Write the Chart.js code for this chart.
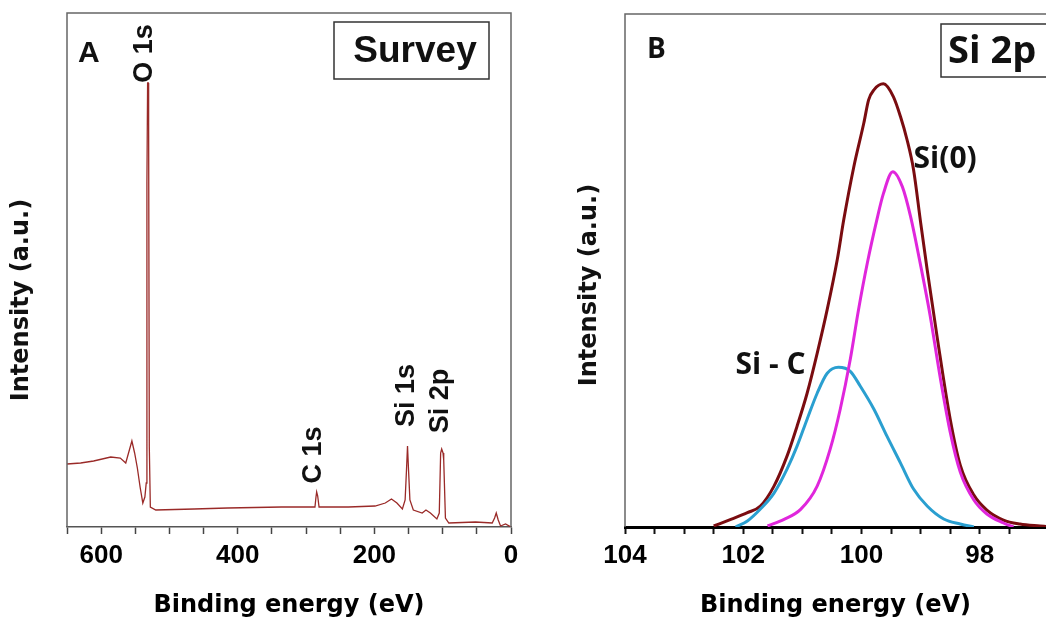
<!DOCTYPE html>
<html>
<head>
<meta charset="utf-8">
<script src="https://cdn.jsdelivr.net/npm/chart.js@4.4.1/dist/chart.umd.min.js"></script>
<style>
  html, body { margin: 0; padding: 0; background: #fff; }
  #wrap { position: relative; width: 1046px; height: 622px; overflow: hidden; }
  .panel { position: absolute; top: 0; }
  #panel-a { left: 0; }
  #panel-b { left: 545px; }
</style>
</head>
<body>
<div id="wrap">
  <div class="panel" id="panel-a"><canvas id="survey-chart" width="545" height="622"></canvas></div>
  <div class="panel" id="panel-b"><canvas id="si2p-chart" width="501" height="622"></canvas></div>
</div>
<script>
// survey spectrum (A): binding energy in eV, intensity in a.u.
var surveyEnergy = [650, 630, 611, 586, 572, 564, 555, 551, 547, 543, 539, 536, 534, 533, 532, 531, 530.5, 529.5, 528, 520,
  464, 415, 336, 287, 285.5, 284.5, 283, 281, 238, 199, 184, 175, 167, 159, 155, 153, 151.5, 150, 148, 143,
  130, 124.5, 118, 108.5, 105, 103, 101.5, 99.5, 98.5, 96, 91, 52, 27.5, 24, 21.6, 18.7, 15.3, 8, 0];
var surveyIntensity = [63, 64, 66, 70, 69, 64, 86, 74, 59, 40, 24, 30, 44, 345, 444, 444, 404, 80, 20, 17,
  18, 19, 20, 20, 30, 35, 31, 20, 20, 21, 24, 28, 24, 18, 27, 57, 81, 57, 27, 17,
  14, 17, 14, 8, 14, 74, 78, 74, 67, 9, 4, 5, 4, 9, 14, 7, 1, 3, 0];

// Si 2p high resolution (B): envelope and the two fitted components
var envelopeEnergy = [102.5, 102.21, 101.93, 101.71, 101.48, 101.26, 101.09, 100.92, 100.75, 100.58,
  100.41, 100.3, 100.13, 99.96, 99.88, 99.79, 99.63, 99.46, 99.34, 99.23,
  99.12, 99.0, 98.89, 98.72, 98.5, 98.33, 98.1, 97.88, 97.6, 97.32, 96.98, 96.88];
var envelopeIntensity = [1, 7.7, 14.3, 21, 41, 71, 101, 134, 174, 218,
  268, 308, 361, 405, 428, 438, 444, 431, 411, 388,
  358, 305, 258, 190, 108, 62, 32, 17, 7, 3, 1, 0.5];

var si0Energy = [101.59, 101.31, 101.03, 100.75, 100.53, 100.36, 100.19, 100.05, 99.9, 99.74,
  99.63, 99.47, 99.31, 99.17, 99.02, 98.84, 98.67, 98.5, 98.33, 98.1, 97.88, 97.6, 97.43];
var si0Intensity = [1, 7.7, 17.7, 41, 78, 118, 168, 218, 265, 308,
  334, 356, 341, 311, 268, 212, 150, 95, 55, 27, 13, 4, 0];

var sicEnergy = [102.13, 101.93, 101.71, 101.48, 101.26, 101.09, 100.92, 100.75, 100.58, 100.39,
  100.19, 100.02, 99.79, 99.57, 99.34, 99.12, 98.89, 98.61, 98.33, 98.1];
var sicIntensity = [0, 6, 18, 34, 58, 81, 108, 134, 154, 160,
  156, 141, 118, 91, 64, 38, 21, 8, 3, 0];

var surveyTicks = { min: 0, max: 650, step: 50, labelEvery: 200 };
var si2pTicks = { min: 96.88, max: 104, step: 0.5, labelEvery: 2 };

function toPoints(xs, ys) {
  return xs.map(function (x, i) {
    return { x: x, y: ys[i] };
  });
}

function isMultiple(v, step) {
  return Math.abs(v / step - Math.round(v / step)) < 1e-6;
}

Chart.defaults.font.family = "Liberation Sans";
Chart.defaults.color = "#000";

// frame, panel letter, boxed title, peak labels and the y title
function makeDecor(cfg) {
  return {
    id: "decor",
    afterDraw: function (chart) {
      var ctx = chart.ctx;
      var a = chart.chartArea;
      var xs = chart.scales.x;
      var ys = chart.scales.y;
      ctx.save();

      ctx.strokeStyle = cfg.frameColor;
      ctx.lineWidth = 1.5;
      ctx.beginPath();
      ctx.moveTo(a.left, a.bottom);
      ctx.lineTo(a.left, a.top);
      if (cfg.closeRight) {
        ctx.lineTo(a.right, a.top);
        ctx.lineTo(a.right, a.bottom);
      } else {
        ctx.lineTo(a.right + 4, a.top);
      }
      ctx.stroke();

      ctx.fillStyle = "#111";
      ctx.textAlign = "left";
      ctx.textBaseline = "alphabetic";
      ctx.font = cfg.letter.font;
      ctx.fillText(cfg.letter.text, cfg.letter.x, cfg.letter.y);

      ctx.strokeStyle = "#333";
      ctx.lineWidth = 1.5;
      ctx.strokeRect(cfg.box.x, cfg.box.y, cfg.box.w, cfg.box.h);
      ctx.font = cfg.box.font;
      ctx.textAlign = cfg.box.align;
      ctx.fillText(cfg.box.text, cfg.box.tx, cfg.box.ty);

      cfg.labels.forEach(function (l) {
        ctx.save();
        ctx.translate(xs.getPixelForValue(l.e), ys.getPixelForValue(l.v));
        if (l.rotate) ctx.rotate(-Math.PI / 2);
        ctx.font = l.font;
        ctx.textAlign = l.align;
        ctx.textBaseline = l.baseline;
        ctx.fillText(l.text, 0, 0);
        ctx.restore();
      });

      ctx.translate(cfg.yTitle.x, cfg.yTitle.y);
      ctx.rotate(-Math.PI / 2);
      ctx.font = "bold 24px 'DejaVu Sans'";
      ctx.textAlign = "center";
      ctx.textBaseline = "middle";
      ctx.fillText("Intensity (a.u.)", 0, 0);
      ctx.restore();
    }
  };
}

function xAxis(t, borderColor, borderWidth, tickColor, tickWidth) {
  return {
    type: "linear",
    reverse: true,
    min: t.min,
    max: t.max,
    border: { display: true, color: borderColor, width: borderWidth },
    grid: { drawOnChartArea: false, drawTicks: true, tickLength: 7, tickWidth: tickWidth, tickColor: tickColor },
    afterBuildTicks: function (s) {
      s.ticks = s.ticks.filter(function (tk) { return isMultiple(tk.value, t.step); });
    },
    ticks: {
      stepSize: t.step,
      autoSkip: false,
      maxRotation: 0,
      padding: 6,
      color: "#000",
      font: { family: "Liberation Sans", size: 26, weight: "bold" },
      callback: function (v) {
        return isMultiple(v, t.labelEvery) ? String(Math.round(v)) : "";
      }
    },
    title: {
      display: true,
      text: "Binding energy (eV)",
      color: "#000",
      padding: { top: 0, bottom: 2 },
      font: { family: "DejaVu Sans", size: 24, weight: "bold" }
    },
    afterFit: function (s) { s.height = 95; }
  };
}

function yAxis(max, width) {
  return {
    min: 0,
    max: max,
    ticks: { display: false },
    grid: { display: false },
    border: { display: false },
    afterFit: function (s) { s.width = width; }
  };
}

var peakFont = "bold 27px 'Liberation Sans'";

new Chart(document.getElementById("survey-chart"), {
  type: "line",
  data: {
    datasets: [
      {
        label: "Survey",
        data: toPoints(surveyEnergy, surveyIntensity),
        borderColor: "#9a2a28",
        borderWidth: 1.3,
        pointRadius: 0,
        tension: 0,
        fill: false
      }
    ]
  },
  options: {
    responsive: false,
    animation: false,
    layout: { padding: { left: 0, right: 34, top: 13, bottom: 0 } },
    plugins: { legend: { display: false }, tooltip: { enabled: false } },
    scales: {
      x: xAxis(surveyTicks, "#555", 1.5, "#444", 1.5),
      y: yAxis(514, 67)
    }
  },
  plugins: [makeDecor({
    frameColor: "#666",
    closeRight: true,
    letter: { text: "A", x: 78, y: 62, font: "bold 30px 'Liberation Sans'" },
    box: { x: 334, y: 22, w: 155, h: 57, text: "Survey", tx: 415, ty: 62, align: "center", font: "bold 37px 'Liberation Sans'" },
    labels: [
      { text: "O 1s", e: 537, v: 473.5, rotate: true, align: "center", baseline: "middle", font: peakFont },
      { text: "C 1s", e: 289.5, v: 72, rotate: true, align: "center", baseline: "middle", font: peakFont },
      { text: "Si 1s", e: 152.6, v: 131.5, rotate: true, align: "center", baseline: "middle", font: peakFont },
      { text: "Si 2p", e: 103.5, v: 126, rotate: true, align: "center", baseline: "middle", font: peakFont }
    ],
    yTitle: { x: 22, y: 300 }
  })]
});

new Chart(document.getElementById("si2p-chart"), {
  type: "line",
  data: {
    datasets: [
      {
        label: "Si(0)",
        data: toPoints(si0Energy, si0Intensity),
        borderColor: "#e026dc",
        borderWidth: 3,
        pointRadius: 0,
        cubicInterpolationMode: "monotone",
        fill: false
      },
      {
        label: "Si - C",
        data: toPoints(sicEnergy, sicIntensity),
        borderColor: "#2a9fd0",
        borderWidth: 3,
        pointRadius: 0,
        cubicInterpolationMode: "monotone",
        fill: false
      },
      {
        label: "Envelope",
        data: toPoints(envelopeEnergy, envelopeIntensity),
        borderColor: "#7a0c10",
        borderWidth: 3,
        pointRadius: 0,
        cubicInterpolationMode: "monotone",
        fill: false
      }
    ]
  },
  options: {
    responsive: false,
    animation: false,
    layout: { padding: { left: 0, right: 0, top: 14, bottom: 0 } },
    plugins: { legend: { display: false }, tooltip: { enabled: false } },
    scales: {
      x: xAxis(si2pTicks, "#000", 3, "#111", 2),
      y: yAxis(514, 80)
    }
  },
  plugins: [makeDecor({
    frameColor: "#666",
    closeRight: false,
    letter: { text: "B", x: 102, y: 58, font: "bold 28px 'Open Sans'" },
    box: { x: 396, y: 24, w: 120, h: 53, text: "Si 2p", tx: 403, ty: 63, align: "left", font: "bold 38px 'Open Sans'" },
    labels: [
      { text: "Si(0)", e: 99.12, v: 360, rotate: false, align: "left", baseline: "alphabetic", font: "bold 30px 'Open Sans'" },
      { text: "Si - C", e: 102.13, v: 153, rotate: false, align: "left", baseline: "alphabetic", font: "bold 30px 'Open Sans'" }
    ],
    yTitle: { x: 45, y: 285 }
  })]
});
</script>
</body>
</html>
